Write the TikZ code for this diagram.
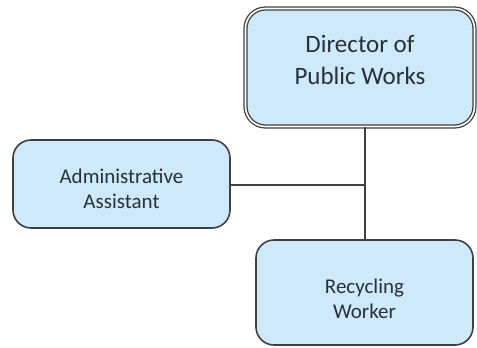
\documentclass[tikz,border=0pt]{standalone}
\usepackage{fontspec}
\setmainfont{Carlito}
\definecolor{boxfill}{RGB}{206,233,250}
\definecolor{boxline}{RGB}{64,64,64}
\definecolor{txt}{RGB}{40,48,58}
\begin{document}
\begin{tikzpicture}[x=1pt,y=-1pt,
  orgbox/.style={draw=boxline, line width=1.6pt, fill=boxfill, rounded corners=18pt, inner sep=0pt},
  topbox/.style={orgbox, rounded corners=20pt, double=white, double distance=1.6pt, line width=1.3pt},
  lbl/.style={align=center, text=txt, inner sep=0pt, font=\fontsize{21}{25}\selectfont},
  toplbl/.style={lbl, font=\fontsize{25}{32}\selectfont},
  link/.style={draw=boxline, line width=1.8pt}]
\useasboundingbox (0,0) rectangle (477,348);
\node[topbox, minimum width=229pt, minimum height=118pt] (dir) at (360,67.5) {};
\node[toplbl] (dirt) at ([yshift=8pt]dir.center) {Director of\\Public Works};
\node[orgbox, minimum width=217pt, minimum height=88pt] (adm) at (121.5,184) {};
\node[lbl] (admt) at ([yshift=-5pt]adm.center) {Administrative\\Assistant};
\node[orgbox, minimum width=217pt, minimum height=105pt] (rec) at (364.5,292.5) {};
\node[lbl] (rect) at ([yshift=-6pt]rec.center) {Recycling\\Worker};
\coordinate (j) at (365,185);
\draw[link] (dir.south -| j) -- (rec.north -| j);
\draw[link] (adm.east |- j) -- (j);
\end{tikzpicture}
\end{document}
